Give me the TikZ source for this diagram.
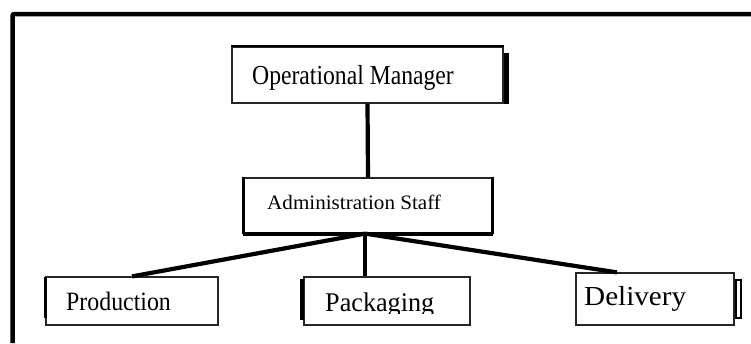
\documentclass[tikz,border=0pt]{standalone}
\usepackage{graphicx}
\usepackage{fontspec}
\setmainfont{Liberation Serif}
\begin{document}
\begin{tikzpicture}[x=1pt,y=-1pt,
  box/.style={draw=black!85, line width=1.2pt, fill=white, inner sep=0pt},
  link/.style={line width=4.2pt},
  lbl/.style={anchor=base west, inner sep=0pt},
  shade/.style={fill=black},
]
\clip (0,0) rectangle (751,343);
\fill[white] (0,0) rectangle (751,343);
% outer frame, open towards the right and the bottom
\draw[line width=4.5pt, rounded corners=2pt] (12.5,343) -- (12.5,14) -- (751,14);

% top level
\node[box, minimum width=271pt, minimum height=56pt] (om) at (367.5,75) {};
\draw[line width=2pt] (om.north west) -- (om.north east);
\fill[shade] (504,53) rectangle (508.5,104);
\node[lbl] (omt) at (252,84) {\fontsize{27.5}{30}\selectfont\scalebox{0.86}[1]{Operational Manager}};

% middle level
\node[box, minimum width=248pt, minimum height=55pt] (adm) at (368,205.5) {};
\draw[line width=2.6pt] (adm.north west) -- (adm.south west);
\draw[line width=3pt] (adm.north east) -- (adm.south east);
\draw[line width=4pt] (adm.south west) -- (adm.south east);
\node[lbl] (admt) at (267,209) {\fontsize{20.5}{23}\selectfont\scalebox{1.03}[1]{Administration Staff}};

% bottom level
\node[box, minimum width=172pt, minimum height=48pt] (prod) at (132,301) {};
\fill[shade] (44,277) rectangle (46.5,318);
\node[lbl] (prodt) at (66,310) {\fontsize{26.5}{29}\selectfont\scalebox{0.9}[1]{Production}};

\node[box, minimum width=166pt, minimum height=48pt] (pack) at (387,301) {};
\fill[shade] (300,279) rectangle (304,320);
\begin{scope}
  \clip (300,250) rectangle (480,313);
  \node[lbl] (packt) at (325,311) {\fontsize{27}{30}\selectfont\scalebox{0.97}[1]{Packaging}};
\end{scope}

\node[box, minimum width=158pt, minimum height=52pt] (deliv) at (655,299) {};
\draw[line width=2pt, fill=white] (736,280) rectangle (740.7,318);
\node[lbl] (delivt) at (584,305) {\fontsize{27.5}{30}\selectfont\scalebox{1.06}[1]{Delivery}};

% connectors
\draw[link] (om.south) -- (adm.north);
\coordinate (j) at ([xshift=-3pt]adm.south);
\draw[link] (j) -- (prod.north);
\draw[link] (j) -- (j |- pack.north);
\draw[link] (j) -- ([xshift=-38pt]deliv.north);
\end{tikzpicture}
\end{document}
